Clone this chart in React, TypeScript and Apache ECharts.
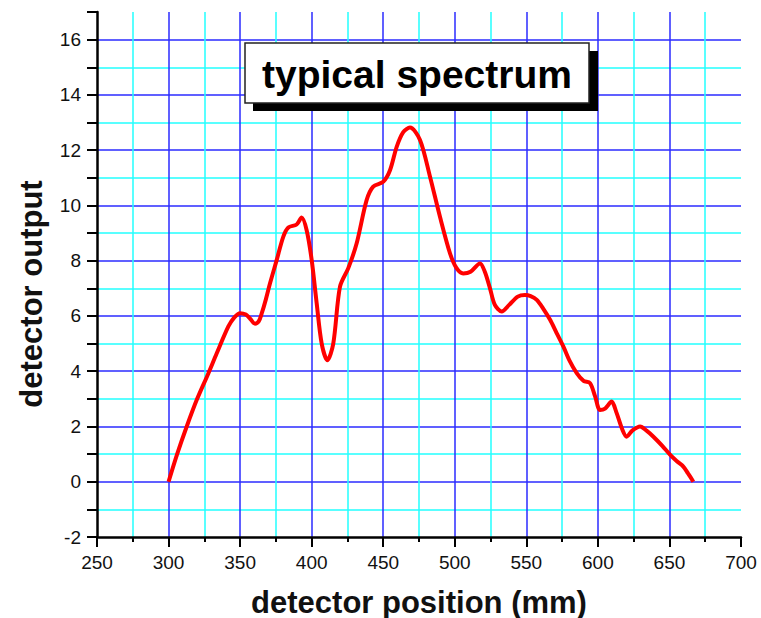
import React, { useEffect, useRef } from "react";
import * as echarts from "echarts";

const xPositions: number[] = [300, 306, 312.7, 320, 327.8, 333.6, 341.8, 346, 350, 354, 357, 360.4, 363, 365.1, 368, 370.9, 375.6, 380.2, 383.7, 389.5, 393, 396.5, 400, 403.5, 407, 411, 415.1, 419.8, 425.6, 431.4, 438.4, 443, 450.1, 454.8, 459.4, 464, 468.7, 475.7, 482.7, 489.7, 496.7, 501, 505.9, 511, 517.6, 521, 524.6, 528, 532.8, 538, 544, 549, 553, 557.3, 562, 566.6, 571, 575.9, 580, 585.2, 590, 594.5, 598, 601.5, 605, 609.6, 613, 617, 620.1, 624, 629.5, 634, 638.8, 645, 650.4, 655, 659.7, 663, 666.7];
const outputs: number[] = [0, 1.0, 2.0, 3.0, 3.92, 4.64, 5.62, 5.95, 6.1, 6.05, 5.9, 5.72, 5.8, 6.09, 6.6, 7.18, 8.03, 8.87, 9.2, 9.31, 9.56, 9.1, 8.03, 6.46, 5.0, 4.4, 5.0, 7.06, 7.73, 8.62, 10.19, 10.68, 10.86, 11.28, 12.12, 12.65, 12.82, 12.37, 11.04, 9.58, 8.26, 7.75, 7.54, 7.6, 7.9, 7.6, 7.0, 6.4, 6.16, 6.4, 6.7, 6.76, 6.72, 6.58, 6.25, 5.86, 5.4, 4.89, 4.4, 3.93, 3.65, 3.57, 3.1, 2.6, 2.65, 2.9, 2.5, 1.9, 1.63, 1.85, 2.0, 1.85, 1.63, 1.3, 0.98, 0.75, 0.55, 0.3, 0];

const xRange = { min: 250, max: 700, step: 50 };
const yRange = { min: -2, max: 17, step: 1, labelStep: 2 };
const titleText = "typical spectrum";
const xName = "detector position (mm)";
const yName = "detector output";

const BLUE = "#2b2bff";
const CYAN = "#22ffff";
const FONT = "Arial, 'Liberation Sans', sans-serif";

export default function App() {
  const ref = useRef<HTMLDivElement>(null);
  useEffect(() => {
    if (!ref.current) return;
    const chart = echarts.init(ref.current, null, { renderer: "svg" });
    const data = xPositions.map((x, i) => [x, outputs[i]]);
    chart.setOption({
      animation: false,
      backgroundColor: "#ffffff",
      grid: { left: 97, right: 20, top: 12, bottom: 81 },
      xAxis: {
        type: "value",
        min: xRange.min,
        max: xRange.max,
        interval: xRange.step,
        axisLine: { show: true, onZero: false, lineStyle: { color: "#000", width: 2.5 } },
        axisTick: { show: true, length: 10, lineStyle: { color: "#000", width: 2 } },
        minorTick: { show: true, splitNumber: 2, length: 5, lineStyle: { color: "#000", width: 2 } },
        axisLabel: { color: "#111", fontSize: 19, fontFamily: FONT, margin: 16 },
        splitLine: { show: true, showMinLine: false, showMaxLine: false, lineStyle: { color: BLUE, width: 1.5 } },
        minorSplitLine: { show: true, lineStyle: { color: CYAN, width: 1.5 } },
      },
      yAxis: {
        type: "value",
        min: yRange.min,
        max: yRange.max,
        interval: yRange.step,
        axisLine: { show: true, onZero: false, lineStyle: { color: "#000", width: 2.5 } },
        axisTick: { show: true, length: 10, lineStyle: { color: "#000", width: 2 } },
        axisLabel: {
          color: "#111",
          fontSize: 19,
          fontFamily: FONT,
          margin: 16,
          formatter: (v: number) => (Math.round(v) % yRange.labelStep === 0 && v < yRange.max ? String(v) : ""),
        },
        splitLine: {
          show: true,
          showMinLine: false,
          showMaxLine: false,
          lineStyle: { color: [CYAN, BLUE], width: 1.5 },
        },
      },
      graphic: [
        {
          type: "rect",
          shape: { x: 253, y: 51, width: 345, height: 60 },
          style: { fill: "#000" },
          z: 10,
        },
        {
          type: "rect",
          shape: { x: 245, y: 43, width: 344, height: 60 },
          style: { fill: "#fff", stroke: "#222", lineWidth: 1.5 },
          z: 11,
        },
        {
          type: "text",
          x: 417,
          y: 74,
          style: {
            text: titleText,
            fill: "#000",
            font: `bold 39px ${FONT}`,
            textAlign: "center",
            textVerticalAlign: "middle",
          },
          z: 12,
        },
        {
          type: "text",
          x: 419,
          y: 602,
          style: {
            text: xName,
            fill: "#111",
            font: `bold 31px ${FONT}`,
            textAlign: "center",
            textVerticalAlign: "middle",
          },
        },
        {
          type: "text",
          x: 31,
          y: 294,
          rotation: Math.PI / 2,
          style: {
            text: yName,
            fill: "#111",
            font: `bold 31px ${FONT}`,
            textAlign: "center",
            textVerticalAlign: "middle",
          },
        },
      ],
      series: [
        {
          type: "line",
          data,
          smooth: 0.3,
          showSymbol: false,
          lineStyle: { color: "#ff0000", width: 4 },
          z: 5,
        },
      ],
    });
    return () => chart.dispose();
  }, []);
  return <div ref={ref} style={{ width: 761, height: 618, position: "absolute", left: 0, top: 0 }} />;
}
